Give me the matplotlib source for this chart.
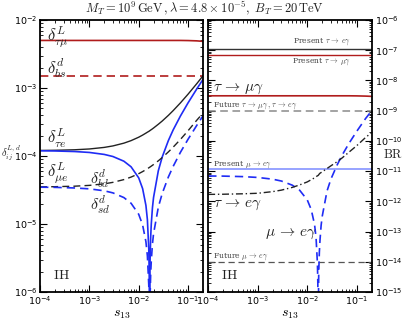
import matplotlib
matplotlib.use("Agg")
import matplotlib.pyplot as plt
import numpy as np
from matplotlib.ticker import LogLocator, NullFormatter

# ---------------- data ----------------
s13 = [1e-4, 2e-4, 5e-4, 1e-3, 2e-3, 3e-3, 5e-3, 7e-3, 1e-2, 1.2e-2, 1.4e-2, 1.5e-2,
       1.6e-2, 1.63e-2, 1.65e-2, 1.66e-2, 1.67e-2, 1.7e-2, 1.75e-2, 1.8e-2, 1.9e-2,
       2e-2, 2.5e-2, 3e-2, 4e-2, 5e-2, 7e-2, 0.1, 0.15, 0.2]

delta_tau_mu = [5.0e-3] * 27 + [4.98e-3, 4.93e-3, 4.85e-3]
delta_bs = [1.5e-3] * 30
delta_tau_e = [1.207e-4, 1.214e-4, 1.235e-4, 1.269e-4, 1.338e-4, 1.407e-4, 1.545e-4, 1.683e-4,
               1.89e-4, 2.03e-4, 2.17e-4, 2.24e-4, 2.30e-4, 2.32e-4, 2.34e-4, 2.35e-4, 2.35e-4,
               2.37e-4, 2.41e-4, 2.44e-4, 2.51e-4, 2.58e-4, 2.93e-4, 3.27e-4, 3.96e-4, 4.65e-4,
               6.03e-4, 8.1e-4, 1.155e-3, 1.5e-3]
delta_mu_e = [1.193e-4, 1.186e-4, 1.164e-4, 1.128e-4, 1.055e-4, 9.83e-5, 8.39e-5, 6.94e-5,
              4.77e-5, 3.32e-5, 1.88e-5, 1.16e-5, 4.3e-6, 2.1e-6, 7e-7, 2e-8, 7e-7, 2.9e-6,
              6.5e-6, 1.01e-5, 1.74e-5, 2.46e-5, 6.08e-5, 9.69e-5, 1.69e-4, 2.42e-4, 3.86e-4,
              6.03e-4, 9.65e-4, 1.326e-3]
delta_bd = [3.52e-5, 3.54e-5, 3.6e-5, 3.7e-5, 3.9e-5, 4.1e-5, 4.5e-5, 4.9e-5, 5.5e-5, 5.9e-5,
            6.3e-5, 6.5e-5, 6.7e-5, 6.76e-5, 6.8e-5, 6.82e-5, 6.84e-5, 6.9e-5, 7.0e-5, 7.1e-5,
            7.3e-5, 7.5e-5, 8.5e-5, 9.5e-5, 1.15e-4, 1.35e-4, 1.75e-4, 2.35e-4, 3.35e-4, 4.25e-4]
delta_sd = [3.48e-5, 3.46e-5, 3.39e-5, 3.29e-5, 3.08e-5, 2.87e-5, 2.45e-5, 2.02e-5, 1.39e-5,
            9.7e-6, 5.5e-6, 3.4e-6, 1.27e-6, 6.4e-7, 2.2e-7, 1e-8, 2.1e-7, 8.4e-7, 1.9e-6,
            2.9e-6, 5.1e-6, 7.2e-6, 1.77e-5, 2.82e-5, 4.93e-5, 7.04e-5, 1.13e-4, 1.76e-4,
            2.81e-4, 3.87e-4]

br_tau_mu = [3.1e-9] * 27 + [3.08e-9, 3.03e-9, 2.97e-9]
br_mu_e = [6.9e-12, 6.84e-12, 6.58e-12, 6.18e-12, 5.41e-12, 4.70e-12, 3.42e-12, 2.34e-12,
           1.11e-12, 5.36e-13, 1.72e-13, 6.5e-14, 9.0e-15, 2.1e-15, 2.4e-16, 1e-18, 2.4e-16,
           4.1e-15, 2.05e-14, 4.96e-14, 1.6e-13, 3.2e-13, 2.2e-12, 5.5e-12, 1.6e-11, 3.3e-11,
           8.5e-11, 2.1e-10, 5.5e-10, 1.0e-9]
br_tau_e = [1.7e-12, 1.72e-12, 1.78e-12, 1.85e-12, 2.1e-12, 2.35e-12, 2.9e-12, 3.5e-12,
            4.4e-12, 5.2e-12, 6.0e-12, 6.5e-12, 7.0e-12, 7.1e-12, 7.2e-12, 7.25e-12, 7.3e-12,
            7.6e-12, 8.1e-12, 8.5e-12, 9.0e-12, 9.5e-12, 1.22e-11, 1.5e-11, 2.05e-11, 2.7e-11,
            4.3e-11, 7.0e-11, 1.3e-10, 1.9e-10]

present_tau_e = 1.1e-7
present_tau_mu = 6.8e-8
future_tau = 1.0e-9
present_mu_e = 1.2e-11
future_mu_e = 1.0e-14

xlim = (1e-4, 0.2)

# ---------------- style ----------------
RED = "#b01c1c"
BLUE = "#1f2cf5"
LBLUE = "#8f9cff"
GRAY = "#8a8a8a"

fig = plt.figure(figsize=(4.09, 3.22), dpi=100)
axL = fig.add_axes([0.098, 0.093, 0.398, 0.845])
axR = fig.add_axes([0.509, 0.093, 0.400, 0.845])


def style(ax):
    ax.set_xscale("log")
    ax.set_yscale("log")
    ax.set_xlim(*xlim)
    ax.tick_params(which="both", direction="in", top=True, right=True, left=True,
                   bottom=True, labelsize=6.8, pad=2)
    ax.tick_params(which="major", length=5, width=0.8)
    ax.tick_params(which="minor", length=2.5, width=0.6)
    ax.xaxis.set_major_locator(LogLocator(base=10, numticks=10))
    ax.xaxis.set_minor_locator(LogLocator(base=10, subs=np.arange(2, 10), numticks=20))
    ax.xaxis.set_minor_formatter(NullFormatter())
    ax.yaxis.set_major_locator(LogLocator(base=10, numticks=20))
    ax.yaxis.set_minor_locator(LogLocator(base=10, subs=np.arange(2, 10), numticks=40))
    ax.yaxis.set_minor_formatter(NullFormatter())
    for sp in ax.spines.values():
        sp.set_linewidth(1.3)


style(axL)
style(axR)
axL.set_ylim(1e-6, 1e-2)
axR.set_ylim(1e-15, 1e-6)
axR.yaxis.tick_right()
axR.tick_params(which="both", left=True, right=True, labelleft=False, labelright=True)

# ---------------- left panel ----------------
axL.plot(s13, delta_tau_mu, color=RED, lw=1.2)
axL.plot(s13, delta_bs, color=RED, lw=1.2, ls=(0, (5, 3)))
axL.plot(s13, delta_tau_e, color="#222222", lw=1.0)
axL.plot(s13, delta_mu_e, color=BLUE, lw=1.2)
axL.plot(s13, delta_bd, color="#222222", lw=1.0, ls=(0, (5, 3)))
axL.plot(s13, delta_sd, color=BLUE, lw=1.2, ls=(0, (5, 3)))

cm = dict(math_fontfamily="cm", color="#222222")
axL.text(1.4e-4, 10**-2.24, r"$\delta^{L}_{\tau\mu}$", fontsize=12, va="center", **cm)
axL.text(1.4e-4, 10**-2.70, r"$\delta^{d}_{bs}$", fontsize=12, va="center", **cm)
axL.text(1.4e-4, 10**-3.74, r"$\delta^{L}_{\tau e}$", fontsize=12, va="center", **cm)
axL.text(1.4e-4, 10**-4.24, r"$\delta^{L}_{\mu e}$", fontsize=12, va="center", **cm)
axL.text(1.05e-3, 10**-4.33, r"$\delta^{d}_{bd}$", fontsize=11.5, va="center", **cm)
axL.text(1.05e-3, 10**-4.71, r"$\delta^{d}_{sd}$", fontsize=11.5, va="center", **cm)
axL.text(1.8e-4, 10**-5.75, r"$\mathrm{IH}$", fontsize=10, va="center", **cm)
axL.set_xlabel(r"$s_{13}$", fontsize=10, math_fontfamily="cm", labelpad=0)
fig.text(0.028, 0.525, r"$\delta^{L,d}_{ij}$", fontsize=7.5, ha="center", va="center",
         math_fontfamily="cm", color="#222222")

# ---------------- right panel ----------------
axR.plot(xlim, [present_tau_e] * 2, color="#333333", lw=1.0)
axR.plot(xlim, [present_tau_mu] * 2, color=RED, lw=1.0)
axR.plot(s13, br_tau_mu, color=RED, lw=1.2)
axR.plot(xlim, [future_tau] * 2, color=GRAY, lw=1.1, ls=(0, (5, 3)))
axR.plot(xlim, [present_mu_e] * 2, color=LBLUE, lw=1.3)
axR.plot(xlim, [future_mu_e] * 2, color="#555555", lw=0.9, ls=(0, (5, 3)))
axR.plot(s13, br_mu_e, color=BLUE, lw=1.2, ls=(0, (5, 3)))
axR.plot(s13, br_tau_e, color="#222222", lw=1.0, ls=(0, (5, 2, 1, 2)))

small = dict(math_fontfamily="cm", color="#444444", fontsize=5.5, family="DejaVu Serif")
axR.text(0.075, 10**-6.72, r"Present $\tau\,\rightarrow\,e\gamma$", ha="right", va="center", **small)
axR.text(0.075, 10**-7.37, r"Present $\tau\,\rightarrow\,\mu\gamma$", ha="right", va="center", **small)
axR.text(1.25e-4, 10**-8.84, r"Future $\tau\,\rightarrow\,\mu\gamma\,,\,\tau\,\rightarrow\,e\gamma$",
         ha="left", va="center", **small)
axR.text(1.25e-4, 10**-10.78, r"Present $\mu\,\rightarrow\,e\gamma$", ha="left", va="center", **small)
axR.text(1.25e-4, 10**-13.82, r"Future $\mu\,\rightarrow\,e\gamma$", ha="left", va="center", **small)

axR.text(1.25e-4, 10**-8.28, r"$\tau\,\rightarrow\,\mu\gamma$", fontsize=11, va="center", **cm)
axR.text(1.25e-4, 10**-12.1, r"$\tau\,\rightarrow\,e\gamma$", fontsize=11, va="center", **cm)
axR.text(1.4e-3, 10**-13.05, r"$\mu\,\rightarrow\,e\gamma$", fontsize=11, va="center", **cm)
axR.text(1.8e-4, 10**-14.45, r"$\mathrm{IH}$", fontsize=10, va="center", **cm)
axR.set_xlabel(r"$s_{13}$", fontsize=10, math_fontfamily="cm", labelpad=0)
fig.text(0.962, 0.519, r"$\mathrm{BR}$", fontsize=9, ha="center", va="center",
         math_fontfamily="cm", color="#222222")

fig.text(0.5, 0.972,
         r"$M_T = 10^9\,\mathrm{GeV}\,,\lambda = 4.8\times 10^{-5},\;B_T = 20\,\mathrm{TeV}$",
         fontsize=9, ha="center", va="center", math_fontfamily="cm", color="#222222")

fig.savefig("out.png", dpi=100)
